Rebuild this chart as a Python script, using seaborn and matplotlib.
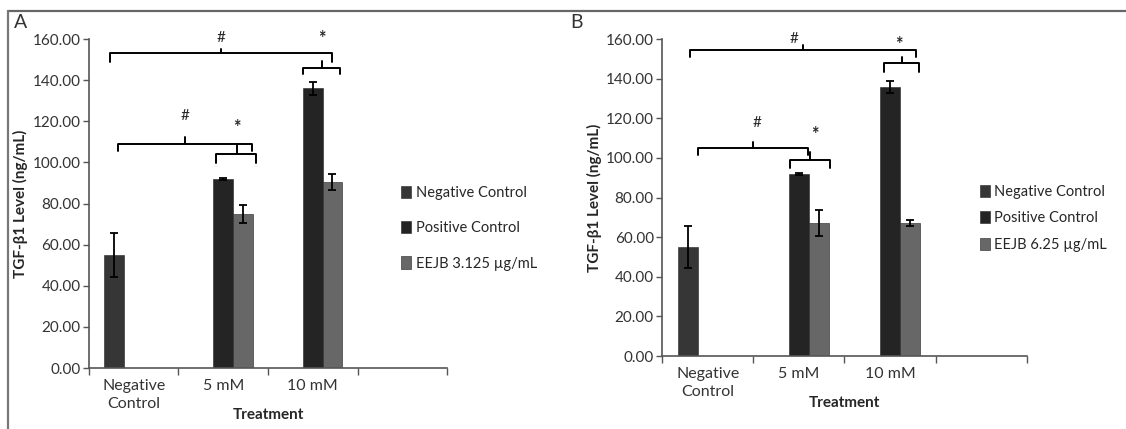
import numpy as np
import pandas as pd
import seaborn as sns
import matplotlib.pyplot as plt

# categorias e series
categorias = ["Negative\nControl", "5 mM", "10 mM", " "]
series = ["Negative Control", "Positive Control", "EEJB"]

# painel A (EEJB 3.125 ug/mL)
a_grupo = ["Negative\nControl", "5 mM", "10 mM", "5 mM", "10 mM"]
a_serie = ["Negative Control", "Positive Control", "Positive Control", "EEJB", "EEJB"]
a_valor = [55.0, 92.0, 136.0, 75.0, 90.5]
a_erro = [10.5, 0.5, 3.0, 4.5, 4.0]

# painel B (EEJB 6.25 ug/mL)
b_grupo = ["Negative\nControl", "5 mM", "10 mM", "5 mM", "10 mM"]
b_serie = ["Negative Control", "Positive Control", "Positive Control", "EEJB", "EEJB"]
b_valor = [55.0, 92.0, 136.0, 67.0, 67.0]
b_erro = [10.5, 0.5, 3.0, 6.5, 1.5]

legenda_a = ["Negative Control", "Positive Control", "EEJB 3.125 \u00b5g/mL"]
legenda_b = ["Negative Control", "Positive Control", "EEJB 6.25 \u00b5g/mL"]

cores = {"Negative Control": "#363636", "Positive Control": "#242424", "EEJB": "#676767"}

sns.set_theme(style="white")
plt.rcParams['font.family'] = ['Lato', 'DejaVu Sans']

fig = plt.figure(figsize=(11.26, 4.29), dpi=100)
ax_a = fig.add_axes([0.079, 0.142, 0.318, 0.767])
ax_b = fig.add_axes([0.588, 0.170, 0.324, 0.739])


def chave(x0, x1, y, yfim, xc, ytopo, ax):
    # chave estilo "bracket" com ponta central
    ax.plot([x0, x0, x1, x1], [yfim, y, y, yfim], color="black", lw=1.4, clip_on=False,
            solid_joinstyle="round")
    ax.plot([xc, xc], [y, ytopo], color="black", lw=1.4, clip_on=False)


def painel(ax, grupo, serie, valor, erro, rotulos, leg_y, leg_esp):
    df = pd.DataFrame({"Grupo": grupo, "Serie": serie, "Valor": valor, "Erro": erro})
    sns.barplot(data=df, x="Grupo", y="Valor", hue="Serie", order=categorias,
                hue_order=series, palette=cores, width=0.66, errorbar=None,
                edgecolor="#222222", linewidth=0.4, ax=ax)
    # barras de erro a partir das barras desenhadas
    for nome, cont in zip(series, ax.containers):
        sub = df[df["Serie"] == nome]
        for barra in cont:
            xc = barra.get_x() + barra.get_width() / 2
            idx = int(round(xc))
            linha = sub[sub["Grupo"] == categorias[idx]]
            if len(linha) == 0:
                continue
            ax.errorbar(xc, linha["Valor"].iloc[0], yerr=linha["Erro"].iloc[0],
                        fmt="none", ecolor="black", elinewidth=1.3, capsize=3, capthick=1.3)
    ax.set_ylim(0, 160)
    ax.set_xlim(-0.5, 3.5)
    ax.set_yticks(np.arange(0, 161, 20))
    ax.set_yticklabels([f"{v:.2f}" for v in np.arange(0, 161, 20)], fontsize=11, color="#333333")
    ax.set_xticks(np.arange(-0.5, 4, 1))
    ax.set_xticklabels([])
    ax.set_xticks(np.arange(0, 4), minor=True)
    ax.set_xticklabels(categorias, minor=True, fontsize=11.5, color="#333333", linespacing=1.35)
    ax.tick_params(axis="x", which="major", direction="out", length=5, width=1, color="#555555", bottom=True)
    ax.tick_params(axis="x", which="minor", length=0, pad=8)
    ax.tick_params(axis="y", direction="out", length=4, width=1, color="#555555", left=True, pad=2)
    for s in ["top", "right"]:
        ax.spines[s].set_visible(False)
    for s in ["left", "bottom"]:
        ax.spines[s].set_color("#555555")
        ax.spines[s].set_linewidth(1.2)
    ax.set_ylabel("TGF-\u03b21 Level (ng/mL)", fontsize=11, fontweight="bold", labelpad=3)
    ax.set_xlabel("Treatment", fontsize=11, fontweight="bold", labelpad=-2)
    h, _ = ax.get_legend_handles_labels()
    ax.legend(h, rotulos, loc="center left", bbox_to_anchor=(0.855, leg_y), frameon=False,
              fontsize=10.5, handlelength=0.7, handleheight=0.9, handletextpad=0.3,
              labelspacing=leg_esp, borderaxespad=0)


painel(ax_a, a_grupo, a_serie, a_valor, a_erro, legenda_a, 0.425, 1.45)
painel(ax_b, b_grupo, b_serie, b_valor, b_erro, legenda_b, 0.435, 0.85)

# anotacoes de significancia
chave(-0.27, 2.22, 153.2, 148.8, 0.98, 155.0, ax_a)
chave(1.89, 2.30, 145.9, 143.0, 2.10, 149.3, ax_a)
chave(-0.18, 1.32, 109.0, 105.8, 0.57, 112.4, ax_a)
chave(0.92, 1.37, 104.0, 99.7, 1.15, 108.8, ax_a)
ax_a.text(0.98, 157, "#", ha="center", va="bottom", fontsize=11, clip_on=False)
ax_a.text(2.10, 156, "*", ha="center", va="bottom", fontsize=13, fontweight="bold", clip_on=False)
ax_a.text(0.57, 119, "#", ha="center", va="bottom", fontsize=11)
ax_a.text(1.15, 113, "*", ha="center", va="bottom", fontsize=13, fontweight="bold")

chave(-0.19, 2.28, 154.5, 151.0, 1.05, 157.0, ax_b)
chave(1.93, 2.32, 147.8, 143.6, 2.13, 151.0, ax_b)
chave(-0.11, 1.10, 104.9, 101.5, 0.50, 108.2, ax_b)
chave(0.90, 1.34, 99.0, 94.8, 1.12, 103.2, ax_b)
ax_b.text(0.95, 156.5, "#", ha="center", va="bottom", fontsize=11, clip_on=False)
ax_b.text(2.10, 153, "*", ha="center", va="bottom", fontsize=13, fontweight="bold", clip_on=False)
ax_b.text(0.54, 114, "#", ha="center", va="bottom", fontsize=11)
ax_b.text(1.17, 107.5, "*", ha="center", va="bottom", fontsize=13, fontweight="bold")

# letras dos paineis e moldura
fig.text(0.012, 0.948, "A", fontsize=14, color="#333333", va="center")
fig.text(0.506, 0.948, "B", fontsize=14, color="#333333", va="center")
fig.add_artist(plt.Line2D([0.007, 1.0], [0.975, 0.975], color="#666666", lw=1.6))
fig.add_artist(plt.Line2D([0.007, 0.007], [0.0, 0.975], color="#777777", lw=1.6))

fig.savefig("out.png", dpi=100)
